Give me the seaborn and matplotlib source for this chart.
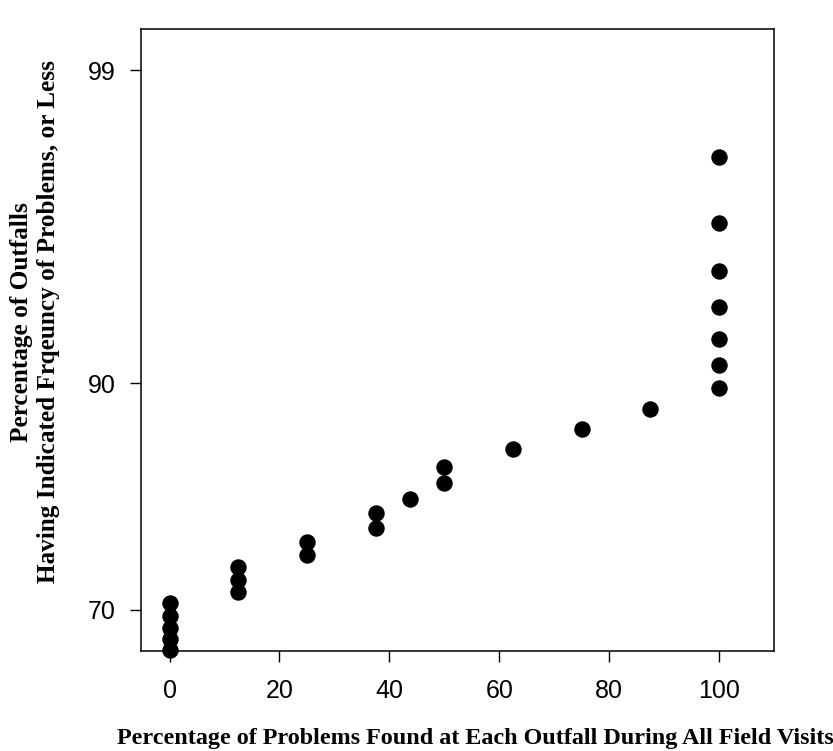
import numpy as np
import pandas as pd
import matplotlib
matplotlib.use("Agg")
import matplotlib.pyplot as plt
import seaborn as sns
from statistics import NormalDist

# Percentage of problems found at each outfall (x) and the cumulative
# percentage of outfalls at that frequency or less (y, probability scale)
problem_pct = [0, 0, 0, 0, 0,
               12.5, 12.5, 12.5,
               25, 25,
               37.5, 37.5,
               43.75,
               50, 50,
               62.5,
               75,
               87.5,
               100, 100, 100, 100, 100, 100, 100]
outfall_pct = [65.18, 66.52, 67.89, 69.27, 70.74,
               72.00, 73.36, 74.74,
               76.03, 77.33,
               78.77, 80.14,
               81.44,
               82.81, 84.19,
               85.57,
               87.03,
               88.39,
               89.69, 91.00, 92.34, 93.78, 95.12, 96.52, 97.91]

x_ticks = [0, 20, 40, 60, 80, 100]
y_ticks = [70, 90, 99]

df = pd.DataFrame({"problems": problem_pct, "outfalls": outfall_pct})

_nd = NormalDist()


def _ppf_one(p):
    if not np.isfinite(p):
        return np.nan
    return _nd.inv_cdf(min(max(p / 100.0, 1e-9), 1 - 1e-9))


def _cdf_one(z):
    if not np.isfinite(z):
        return np.nan
    return 100.0 * _nd.cdf(z)


_ppf = np.vectorize(_ppf_one, otypes=[float])
_cdf = np.vectorize(_cdf_one, otypes=[float])


def to_z(p):
    return _ppf(np.asarray(p, dtype=float))


def from_z(z):
    return _cdf(np.asarray(z, dtype=float))


sns.set_theme(style="ticks")
plt.rcParams["font.family"] = ["Liberation Sans", "DejaVu Sans"]

fig = plt.figure(figsize=(8.33, 7.51), dpi=100)
ax = fig.add_axes([141 / 833, 1 - 651 / 751, 633 / 833, 622 / 751])

sns.scatterplot(data=df, x="problems", y="outfalls", ax=ax, color="black",
                s=140, edgecolor="black", linewidth=0, legend=False)
for coll in ax.collections:
    coll.set_clip_on(False)

ax.set_yscale("function", functions=(to_z, from_z))
ax.set_xlim(-5.2, 110.0)
ax.set_ylim(65.06, 99.312)
ax.set_xticks(x_ticks)
ax.set_xticklabels([str(t) for t in x_ticks])
ax.set_yticks(y_ticks)
ax.set_yticklabels([str(t) for t in y_ticks])
ax.yaxis.set_minor_locator(matplotlib.ticker.NullLocator())
ax.xaxis.set_minor_locator(matplotlib.ticker.NullLocator())

for side in ["left", "right", "top", "bottom"]:
    ax.spines[side].set_visible(True)
    ax.spines[side].set_color("black")
    ax.spines[side].set_linewidth(1.1)

ax.tick_params(axis="both", direction="out", length=8, width=1.0,
               color="black", labelcolor="black", labelsize=18)
ax.tick_params(axis="x", pad=12)
ax.tick_params(axis="y", pad=10)

serif = ["Liberation Serif", "DejaVu Serif"]
ax.set_xlabel("Percentage of Problems Found at Each Outfall During All Field Visits",
              fontfamily=serif, fontweight="bold", fontsize=17.4, color="black")
ax.xaxis.label.set_va("center")
ax.xaxis.set_label_coords(0.528, -0.140)

ax.set_ylabel("Percentage of Outfalls\nHaving Indicated Frqeuncy of Problems, or Less",
              fontfamily=serif, fontweight="bold", fontsize=18.2, color="black",
              linespacing=1.2)
ax.yaxis.label.set_va("center")
ax.yaxis.set_label_coords(-0.167, 0.529)

fig.savefig("out.png", dpi=100, facecolor="white")
